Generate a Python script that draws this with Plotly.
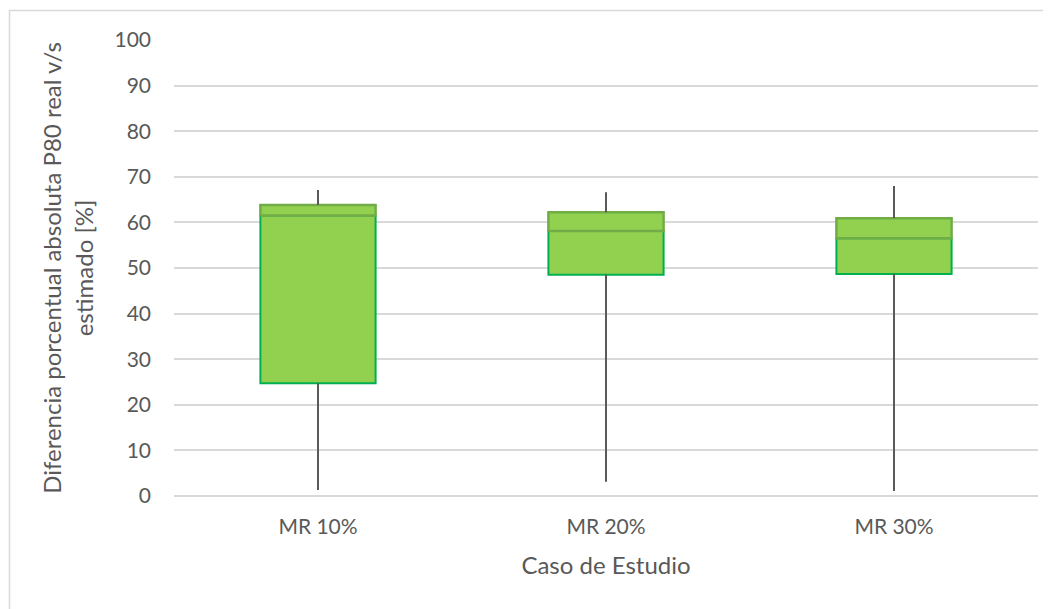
import plotly.graph_objects as go

categories = ["MR 10%", "MR 20%", "MR 30%"]
minimum = [1.3, 3.1, 1.1]
q1 = [24.7, 48.5, 48.7]
median = [61.5, 58.1, 56.5]
q3 = [63.8, 62.2, 60.9]
maximum = [67.1, 66.6, 68.0]

TEXT = "#595959"
FONT = "Lato"

fig = go.Figure()

# whiskers
wx, wy = [], []
for c, mn, a, b, mx in zip(categories, minimum, q1, q3, maximum):
    wx += [c, c, None, c, c, None]
    wy += [mn, a, None, b, mx, None]
fig.add_trace(go.Scatter(x=wx, y=wy, mode="lines",
                         line=dict(color="#595959", width=2),
                         hoverinfo="skip", showlegend=False))

# lower box part (Q1 -> median)
fig.add_trace(go.Bar(x=categories, y=[m - a for m, a in zip(median, q1)], base=q1,
                     width=0.4, marker=dict(color="#92D050", line=dict(color="#00B050", width=2)),
                     showlegend=False))
# upper box part (median -> Q3)
fig.add_trace(go.Bar(x=categories, y=[b - m for b, m in zip(q3, median)], base=median,
                     width=0.4, marker=dict(color="#92D050", line=dict(color="#70AD47", width=2.5)),
                     showlegend=False))

fig.update_layout(
    width=1043, height=601,
    margin=dict(l=166, r=13, t=32, b=113, autoexpand=False),
    paper_bgcolor="white", plot_bgcolor="white",
    barmode="overlay",
    font=dict(family=FONT, color=TEXT, size=21),
    showlegend=False,
    xaxis=dict(
        type="category",
        showgrid=False, showline=False, zeroline=False,
        tickfont=dict(size=21, color=TEXT, family=FONT),
        ticklabelstandoff=16,
        title=dict(text="Caso de Estudio", font=dict(size=24, color=TEXT, family=FONT), standoff=20),
    ),
    yaxis=dict(
        range=[0, 100], tickmode="linear", tick0=0, dtick=10,
        showgrid=True, gridcolor="#D9D9D9", gridwidth=1.5,
        zeroline=True, zerolinecolor="#D9D9D9", zerolinewidth=1.5,
        showline=False,
        tickfont=dict(size=21, color=TEXT, family=FONT),
        ticklabelstandoff=22,
        title=dict(text="Diferencia porcentual absoluta P80 real v/s<br>estimado [%]",
                   font=dict(size=24, color=TEXT, family=FONT), standoff=14),
    ),
    shapes=[dict(type="rect", xref="paper", yref="paper",
                 x0=(9.5 - 174) / 864, x1=1.2, y0=-0.6, y1=(496 - 10.5) / 456,
                 line=dict(color="#D9D9D9", width=1.5), fillcolor="rgba(0,0,0,0)", layer="below")],
)

fig.write_html("out.html")
